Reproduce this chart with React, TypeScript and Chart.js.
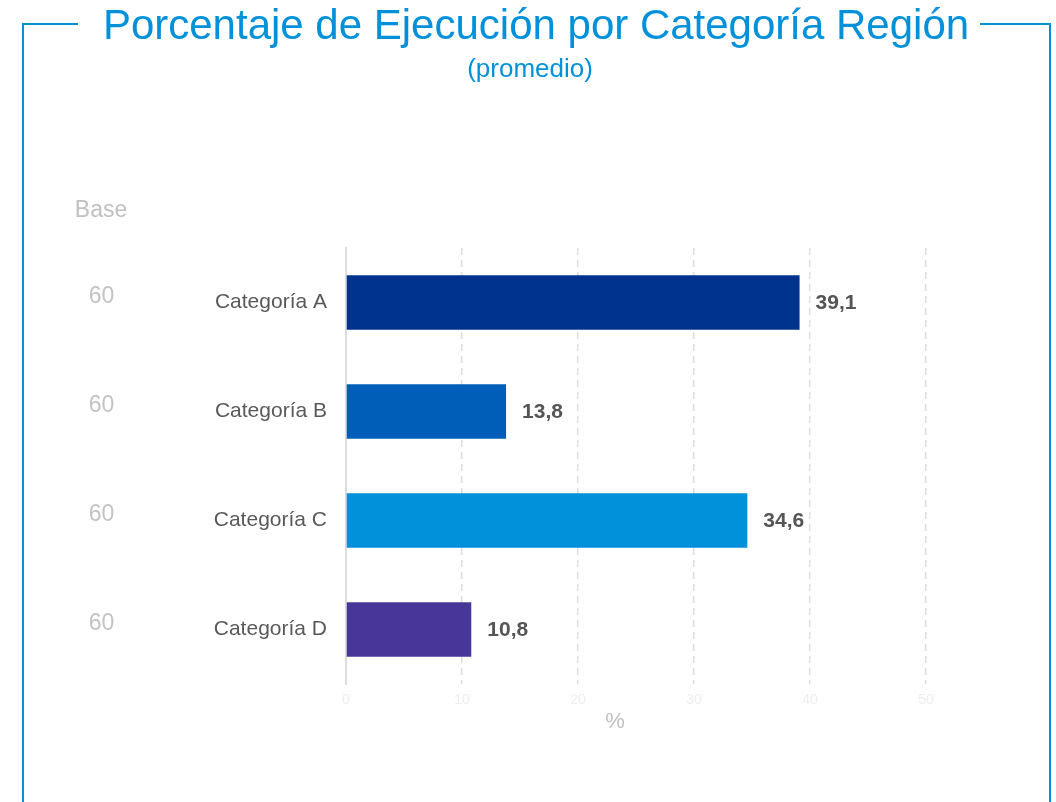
import React, { useEffect, useRef } from "react";
import { Chart, registerables } from "chart.js";

Chart.register(...registerables);

const titleText = "Porcentaje de Ejecución por Categoría Región";
const subtitleText = "(promedio)";
const categories = ["Categoría A", "Categoría B", "Categoría C", "Categoría D"];
const values = [39.1, 13.8, 34.6, 10.8];
const bases = [60, 60, 60, 60];
const barColors = ["#00338D", "#005EB8", "#0091DA", "#483698"];
const xTicks = [0, 10, 20, 30, 40, 50];
const baseHeader = "Base";
const xTitle = "%";

const FONT = 'Arial, "Liberation Sans", Helvetica, sans-serif';
const BLUE = "#0091DA";

const fmt = (v: number) => v.toFixed(1).replace(".", ",");

const decorPlugin = {
  id: "decor",
  afterDraw(chart: any) {
    const ctx = chart.ctx as CanvasRenderingContext2D;
    const area = chart.chartArea;
    const meta = chart.getDatasetMeta(0);
    ctx.save();
    // frame
    ctx.strokeStyle = BLUE;
    ctx.lineWidth = 2;
    ctx.beginPath();
    ctx.moveTo(78, 24);
    ctx.lineTo(23, 24);
    ctx.lineTo(23, 810);
    ctx.moveTo(980, 24);
    ctx.lineTo(1050, 24);
    ctx.lineTo(1050, 810);
    ctx.stroke();

    // title
    ctx.fillStyle = BLUE;
    ctx.textAlign = "center";
    ctx.textBaseline = "alphabetic";
    ctx.font = `42px ${FONT}`;
    ctx.fillText(titleText, 536, 39);
    ctx.font = `26px ${FONT}`;
    ctx.fillText(subtitleText, 530, 77);

    // base column
    ctx.fillStyle = "#c0c0c0";
    ctx.font = `23px ${FONT}`;
    ctx.fillText(baseHeader, 101, 217);
    meta.data.forEach((bar: any, i: number) => {
      ctx.fillStyle = "#c3c3c3";
      ctx.textBaseline = "alphabetic";
      ctx.fillText(String(bases[i]), 101.5, bar.y);
    });

    // data labels
    ctx.fillStyle = "#555555";
    ctx.font = `bold 21px ${FONT}`;
    ctx.textAlign = "left";
    ctx.textBaseline = "middle";
    meta.data.forEach((bar: any, i: number) => {
      ctx.fillText(fmt(values[i]), bar.x + 16, bar.y + 1);
    });

    // x title
    ctx.fillStyle = "#c0c0c0";
    ctx.font = `22px ${FONT}`;
    ctx.textAlign = "center";
    ctx.fillText(xTitle, 615, area.bottom + 38);
    ctx.restore();
  },
};

export default function App() {
  const ref = useRef<HTMLCanvasElement | null>(null);
  useEffect(() => {
    if (!ref.current) return;
    const chart = new Chart(ref.current, {
      type: "bar",
      data: {
        labels: categories,
        datasets: [
          {
            data: values,
            backgroundColor: barColors,
            borderWidth: 0,
            barPercentage: 0.5,
            categoryPercentage: 1,
          },
        ],
      },
      options: {
        indexAxis: "y",
        responsive: false,
        animation: false,
        layout: { padding: { left: 0, top: 248, right: 130, bottom: 0 } },
        plugins: {
          legend: { display: false },
          tooltip: { enabled: false },
          title: { display: false },
        },
        scales: {
          y: {
            afterFit: (s: any) => {
              s.width = 346;
            },
            grid: { display: false, drawTicks: false },
            border: { display: true, color: "#dddddd", width: 2 },
            ticks: {
              color: "#595959",
              font: { family: FONT, size: 21 },
              padding: 19,
            },
          },
          x: {
            min: xTicks[0],
            max: xTicks[xTicks.length - 1],
            afterFit: (s: any) => {
              s.height = 118;
            },
            afterBuildTicks: (s: any) => {
              s.ticks = xTicks.map((v) => ({ value: v }));
            },
            grid: {
              drawTicks: false,
              lineWidth: 1.5,
              color: (c: any) => (c.index === 0 ? "rgba(0,0,0,0)" : "#dddddd"),
            },
            border: { display: false, dash: [7, 5] },
            ticks: {
              color: "#eeeeee",
              font: { family: FONT, size: 14 },
              padding: 8,
            },
          },
        },
      },
      plugins: [decorPlugin],
    });
    return () => chart.destroy();
  }, []);
  return (
    <div style={{ position: "absolute", left: 0, top: 0, width: 1056, height: 802, background: "#fff" }}>
      <canvas ref={ref} width={1056} height={802} style={{ display: "block" }} />
    </div>
  );
}
